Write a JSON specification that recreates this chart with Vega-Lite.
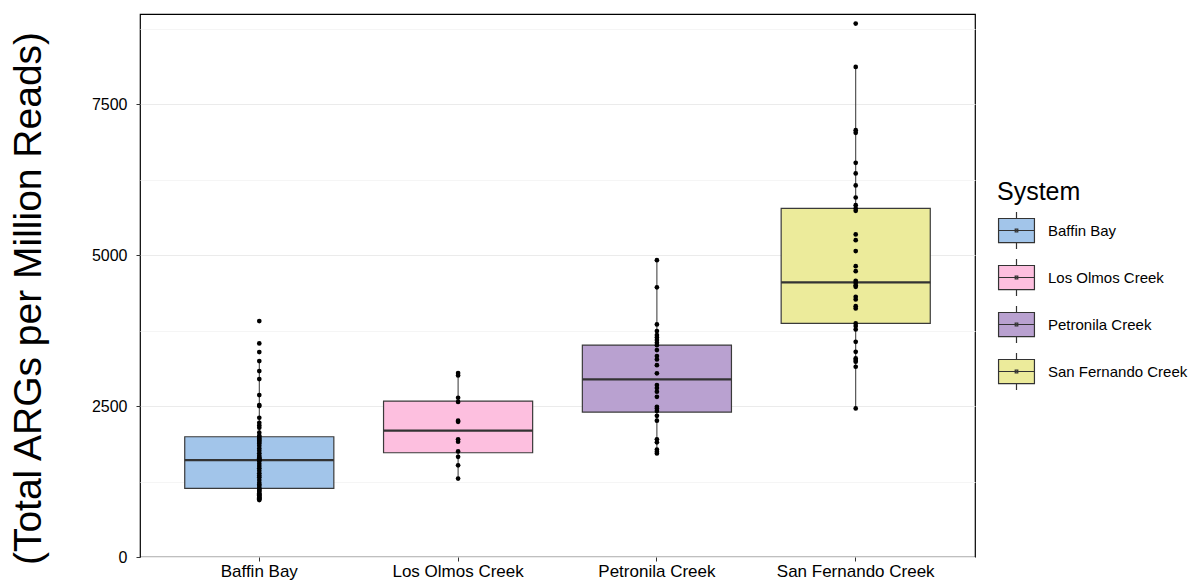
{
  "$schema": "https://vega.github.io/schema/vega-lite/v6.json",
  "width": 835,
  "height": 543,
  "autosize": "none",
  "padding": {"left": 140, "top": 14, "right": 216, "bottom": 23},
  "background": "#ffffff",
  "config": {
    "font": "Liberation Sans",
    "view": {"stroke": "#000000", "strokeWidth": 1.2}
  },
  "datasets": {
    "boxes": [
      {"System": "Baffin Bay", "lower": 944, "q1": 1138, "median": 1607, "q3": 1993, "upper": 3247},
      {"System": "Los Olmos Creek", "lower": 1300, "q1": 1728, "median": 2093, "q3": 2584, "upper": 3050},
      {"System": "Petronila Creek", "lower": 1715, "q1": 2402, "median": 2944, "q3": 3512, "upper": 4920},
      {"System": "San Fernando Creek", "lower": 2463, "q1": 3872, "median": 4551, "q3": 5777, "upper": 8123}
    ],
    "points": [
      {"System": "Baffin Bay", "ARGs": 3910}, {"System": "Baffin Bay", "ARGs": 3540}, {"System": "Baffin Bay", "ARGs": 3396}, {"System": "Baffin Bay", "ARGs": 3247},
      {"System": "Baffin Bay", "ARGs": 3081}, {"System": "Baffin Bay", "ARGs": 2949}, {"System": "Baffin Bay", "ARGs": 2684}, {"System": "Baffin Bay", "ARGs": 2518},
      {"System": "Baffin Bay", "ARGs": 2502}, {"System": "Baffin Bay", "ARGs": 2308}, {"System": "Baffin Bay", "ARGs": 2225}, {"System": "Baffin Bay", "ARGs": 2181},
      {"System": "Baffin Bay", "ARGs": 2142}, {"System": "Baffin Bay", "ARGs": 2060}, {"System": "Baffin Bay", "ARGs": 2010}, {"System": "Baffin Bay", "ARGs": 1990},
      {"System": "Baffin Bay", "ARGs": 1966}, {"System": "Baffin Bay", "ARGs": 1945}, {"System": "Baffin Bay", "ARGs": 1927}, {"System": "Baffin Bay", "ARGs": 1905},
      {"System": "Baffin Bay", "ARGs": 1883}, {"System": "Baffin Bay", "ARGs": 1845}, {"System": "Baffin Bay", "ARGs": 1800}, {"System": "Baffin Bay", "ARGs": 1760},
      {"System": "Baffin Bay", "ARGs": 1720}, {"System": "Baffin Bay", "ARGs": 1679}, {"System": "Baffin Bay", "ARGs": 1650}, {"System": "Baffin Bay", "ARGs": 1635},
      {"System": "Baffin Bay", "ARGs": 1615}, {"System": "Baffin Bay", "ARGs": 1600}, {"System": "Baffin Bay", "ARGs": 1590}, {"System": "Baffin Bay", "ARGs": 1546},
      {"System": "Baffin Bay", "ARGs": 1508}, {"System": "Baffin Bay", "ARGs": 1469}, {"System": "Baffin Bay", "ARGs": 1430}, {"System": "Baffin Bay", "ARGs": 1387},
      {"System": "Baffin Bay", "ARGs": 1350}, {"System": "Baffin Bay", "ARGs": 1320}, {"System": "Baffin Bay", "ARGs": 1276}, {"System": "Baffin Bay", "ARGs": 1231},
      {"System": "Baffin Bay", "ARGs": 1200}, {"System": "Baffin Bay", "ARGs": 1181}, {"System": "Baffin Bay", "ARGs": 1145}, {"System": "Baffin Bay", "ARGs": 1130},
      {"System": "Baffin Bay", "ARGs": 1115}, {"System": "Baffin Bay", "ARGs": 1099}, {"System": "Baffin Bay", "ARGs": 1080}, {"System": "Baffin Bay", "ARGs": 1055},
      {"System": "Baffin Bay", "ARGs": 1040}, {"System": "Baffin Bay", "ARGs": 1025}, {"System": "Baffin Bay", "ARGs": 1011}, {"System": "Baffin Bay", "ARGs": 995},
      {"System": "Baffin Bay", "ARGs": 985}, {"System": "Baffin Bay", "ARGs": 972}, {"System": "Baffin Bay", "ARGs": 958}, {"System": "Baffin Bay", "ARGs": 944},
      {"System": "Los Olmos Creek", "ARGs": 3050}, {"System": "Los Olmos Creek", "ARGs": 3010}, {"System": "Los Olmos Creek", "ARGs": 2640}, {"System": "Los Olmos Creek", "ARGs": 2570},
      {"System": "Los Olmos Creek", "ARGs": 2260}, {"System": "Los Olmos Creek", "ARGs": 2240}, {"System": "Los Olmos Creek", "ARGs": 1950}, {"System": "Los Olmos Creek", "ARGs": 1910},
      {"System": "Los Olmos Creek", "ARGs": 1750}, {"System": "Los Olmos Creek", "ARGs": 1660}, {"System": "Los Olmos Creek", "ARGs": 1520}, {"System": "Los Olmos Creek", "ARGs": 1300},
      {"System": "Petronila Creek", "ARGs": 4920}, {"System": "Petronila Creek", "ARGs": 4470}, {"System": "Petronila Creek", "ARGs": 3855}, {"System": "Petronila Creek", "ARGs": 3745},
      {"System": "Petronila Creek", "ARGs": 3680}, {"System": "Petronila Creek", "ARGs": 3640}, {"System": "Petronila Creek", "ARGs": 3595}, {"System": "Petronila Creek", "ARGs": 3550},
      {"System": "Petronila Creek", "ARGs": 3510}, {"System": "Petronila Creek", "ARGs": 3430}, {"System": "Petronila Creek", "ARGs": 3330}, {"System": "Petronila Creek", "ARGs": 3275},
      {"System": "Petronila Creek", "ARGs": 3180}, {"System": "Petronila Creek", "ARGs": 3045}, {"System": "Petronila Creek", "ARGs": 2850}, {"System": "Petronila Creek", "ARGs": 2800},
      {"System": "Petronila Creek", "ARGs": 2740}, {"System": "Petronila Creek", "ARGs": 2655}, {"System": "Petronila Creek", "ARGs": 2490}, {"System": "Petronila Creek", "ARGs": 2460},
      {"System": "Petronila Creek", "ARGs": 2420}, {"System": "Petronila Creek", "ARGs": 2340}, {"System": "Petronila Creek", "ARGs": 2260}, {"System": "Petronila Creek", "ARGs": 1950},
      {"System": "Petronila Creek", "ARGs": 1900}, {"System": "Petronila Creek", "ARGs": 1780}, {"System": "Petronila Creek", "ARGs": 1745}, {"System": "Petronila Creek", "ARGs": 1715},
      {"System": "San Fernando Creek", "ARGs": 8842}, {"System": "San Fernando Creek", "ARGs": 8123}, {"System": "San Fernando Creek", "ARGs": 7074}, {"System": "San Fernando Creek", "ARGs": 7030},
      {"System": "San Fernando Creek", "ARGs": 6533}, {"System": "San Fernando Creek", "ARGs": 6357}, {"System": "San Fernando Creek", "ARGs": 6158}, {"System": "San Fernando Creek", "ARGs": 5959},
      {"System": "San Fernando Creek", "ARGs": 5832}, {"System": "San Fernando Creek", "ARGs": 5777}, {"System": "San Fernando Creek", "ARGs": 5737}, {"System": "San Fernando Creek", "ARGs": 5346},
      {"System": "San Fernando Creek", "ARGs": 5252}, {"System": "San Fernando Creek", "ARGs": 5070}, {"System": "San Fernando Creek", "ARGs": 4821}, {"System": "San Fernando Creek", "ARGs": 4738},
      {"System": "San Fernando Creek", "ARGs": 4578}, {"System": "San Fernando Creek", "ARGs": 4545}, {"System": "San Fernando Creek", "ARGs": 4506}, {"System": "San Fernando Creek", "ARGs": 4478},
      {"System": "San Fernando Creek", "ARGs": 4313}, {"System": "San Fernando Creek", "ARGs": 4269}, {"System": "San Fernando Creek", "ARGs": 4158}, {"System": "San Fernando Creek", "ARGs": 4120},
      {"System": "San Fernando Creek", "ARGs": 3872}, {"System": "San Fernando Creek", "ARGs": 3827}, {"System": "San Fernando Creek", "ARGs": 3772}, {"System": "San Fernando Creek", "ARGs": 3567},
      {"System": "San Fernando Creek", "ARGs": 3401}, {"System": "San Fernando Creek", "ARGs": 3292}, {"System": "San Fernando Creek", "ARGs": 3264}, {"System": "San Fernando Creek", "ARGs": 3236},
      {"System": "San Fernando Creek", "ARGs": 3153}, {"System": "San Fernando Creek", "ARGs": 2463}
    ]
  },
  "encoding": {
    "x": {
      "field": "System",
      "type": "nominal",
      "scale": {
        "type": "band",
        "domain": ["Baffin Bay", "Los Olmos Creek", "Petronila Creek", "San Fernando Creek"],
        "paddingInner": 0.25,
        "paddingOuter": 0.225
      },
      "axis": {
        "title": null,
        "labelAngle": 0,
        "labelFontSize": 17,
        "labelColor": "#000000",
        "labelPadding": 2,
        "tickSize": 4,
        "tickColor": "#333333",
        "domain": false,
        "grid": false
      }
    }
  },
  "layer": [
    {
      "data": {"name": "boxes"},
      "mark": {"type": "rule", "color": "#333333", "strokeWidth": 1},
      "encoding": {
        "y": {
          "field": "lower",
          "type": "quantitative",
          "scale": {"domain": [0, 9000], "nice": false, "zero": false},
          "axis": {
            "values": [0, 1250, 2500, 3750, 5000, 6250, 7500, 8750],
            "format": "d",
            "labelExpr": "datum.value % 2500 === 0 ? datum.label : ''",
            "tickOpacity": {"condition": {"test": "datum.value % 2500 === 0", "value": 1}, "value": 0},
            "gridColor": {"condition": {"test": "datum.value % 2500 === 0", "value": "#ebebeb"}, "value": "#f5f5f5"},
            "grid": true,
            "domain": false,
            "tickSize": 4,
            "tickColor": "#333333",
            "labelFontSize": 16,
            "labelColor": "#000000",
            "labelPadding": 9,
            "title": "(Total ARGs per Million Reads)",
            "titleFontSize": 39,
            "titleFontWeight": "normal",
            "titleColor": "#000000",
            "titlePadding": 43,
            "titleY": 284
          }
        },
        "y2": {"field": "q1"}
      }
    },
    {
      "data": {"name": "boxes"},
      "mark": {"type": "rule", "color": "#333333", "strokeWidth": 1},
      "encoding": {
        "y": {"field": "q3", "type": "quantitative"},
        "y2": {"field": "upper"}
      }
    },
    {
      "data": {"name": "boxes"},
      "mark": {"type": "bar", "stroke": "#3a3a3a", "strokeWidth": 1.2, "opacity": 1},
      "encoding": {
        "y": {"field": "q1", "type": "quantitative"},
        "y2": {"field": "q3"},
        "fill": {
          "field": "System",
          "type": "nominal",
          "scale": {
            "domain": ["Baffin Bay", "Los Olmos Creek", "Petronila Creek", "San Fernando Creek"],
            "range": ["#a2c5ea", "#fdbfdf", "#b9a1d0", "#eceb9b"]
          },
          "legend": {
            "title": "System",
            "orient": "none",
            "legendX": 857,
            "legendY": 166,
            "padding": 0,
            "titleFontSize": 25,
            "titleFontWeight": "normal",
            "titleColor": "#000000",
            "titlePadding": 6,
            "labelFontSize": 15,
            "labelColor": "#000000",
            "labelOffset": 12,
            "rowPadding": 4,
            "symbolType": "M-0.97,-0.65H0.97V0.65H-0.97Z M0,-1V-0.65 M0,0.65V1 M-0.97,0H0.97 M-0.07,-0.07H0.07V0.07H-0.07Z",
            "symbolSize": 1369,
            "symbolStrokeColor": "#333333",
            "symbolStrokeWidth": 1.2,
            "symbolOpacity": 1
          }
        }
      }
    },
    {
      "data": {"name": "boxes"},
      "mark": {"type": "bar", "fill": "transparent", "stroke": "#333333", "strokeWidth": 2.2},
      "encoding": {
        "y": {"field": "median", "type": "quantitative"},
        "y2": {"field": "median"}
      }
    },
    {
      "data": {"name": "points"},
      "mark": {"type": "circle", "color": "#000000", "size": 22, "opacity": 1},
      "encoding": {
        "y": {"field": "ARGs", "type": "quantitative"}
      }
    }
  ]
}
